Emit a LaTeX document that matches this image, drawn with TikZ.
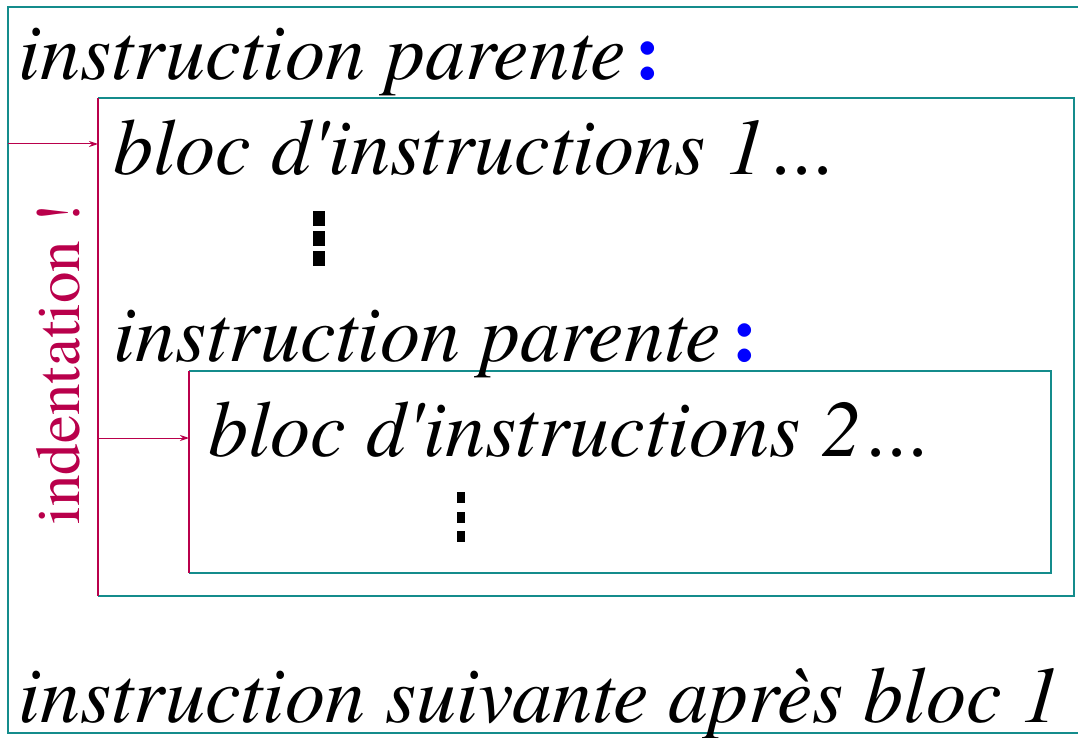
\documentclass[tikz,border=0pt]{standalone}
\usepackage{fontspec}
\newfontfamily\codefont{texgyretermes}[Extension=.otf, UprightFont=*-regular, ItalicFont=*-italic, BoldFont=*-bold, BoldItalicFont=*-bolditalic]
\usetikzlibrary{arrows.meta}
\definecolor{tealline}{RGB}{20,140,140}
\definecolor{crimsonline}{RGB}{185,0,75}
\definecolor{colonblue}{RGB}{0,0,255}
\newcommand{\trailingdots}{\kern4pt.\kern0.5pt.\kern0.5pt.}
\tikzset{
  codetext/.style={anchor=base west, inner sep=0pt, font=\codefont\fontsize{40}{48}\selectfont\itshape},
  colontext/.style={anchor=base, inner sep=0pt, text=colonblue, font=\codefont\fontsize{40}{48}\selectfont\bfseries},
  boxline/.style={draw=tealline, line width=1pt},
  indentline/.style={draw=crimsonline, line width=1pt},
  indentarrow/.style={draw=crimsonline, line width=0.5pt, -{Stealth[length=4.5pt,width=3pt]}},
  sidelabel/.style={anchor=base, inner sep=0pt, rotate=90, text=crimsonline, font=\codefont\fontsize{31.5}{38}\selectfont},
  vdot/.style={fill=black}
}
\begin{document}
\begin{tikzpicture}[x=0.5pt,y=-0.5pt]
\useasboundingbox (0,0) rectangle (1078,738);
% outer box (right edge outside the picture)
\draw[boxline] (8,7) rectangle (1084,733);
% middle box
\coordinate (m-tl) at (98,98);
\coordinate (m-tr) at (1074,98);
\coordinate (m-br) at (1074,596);
\coordinate (m-bl) at (98,596);
\draw[boxline] (m-tl) -- (m-tr) -- (m-br) -- (m-bl);
\draw[indentline] (m-tl) -- (m-bl);
% inner box
\coordinate (i-tl) at (189,371);
\coordinate (i-tr) at (1051,371);
\coordinate (i-br) at (1051,573);
\coordinate (i-bl) at (189,573);
\draw[boxline] (i-tl) -- (i-tr) -- (i-br) -- (i-bl);
\draw[indentline] (i-tl) -- (i-bl);
% indentation arrows
\coordinate (a1s) at (8,144);
\coordinate (a1e) at (98,144);
\coordinate (a2s) at (98,438);
\coordinate (a2e) at (189,438);
\draw[indentarrow] (a1s) -- (a1e);
\draw[indentarrow] (a2s) -- (a2e);
% texts
\node[codetext] (t1) at (18,80) {instruction parente};
\node[colontext] (c1) at (648,80) {:};
\node[codetext] (t2) at (113,175) {bloc d'instructions 1\trailingdots};
\node[codetext] (t3) at (113,361) {instruction parente};
\node[colontext] (c2) at (745,361) {:};
\node[codetext] (t4) at (208,456) {bloc d'instructions 2\trailingdots};
\node[codetext] (t5) at (18,722) {instruction suivante après bloc 1};
\node[sidelabel] (lab) at (79,364) {indentation !};
% vertical dots
\fill[vdot] (313,211) rectangle (325,226);
\fill[vdot] (313,231) rectangle (325,246);
\fill[vdot] (313,251) rectangle (325,266);
\fill[vdot] (457,492) rectangle (465,503);
\fill[vdot] (457,512) rectangle (465,523);
\fill[vdot] (457,531) rectangle (465,542);
\end{tikzpicture}
\end{document}
